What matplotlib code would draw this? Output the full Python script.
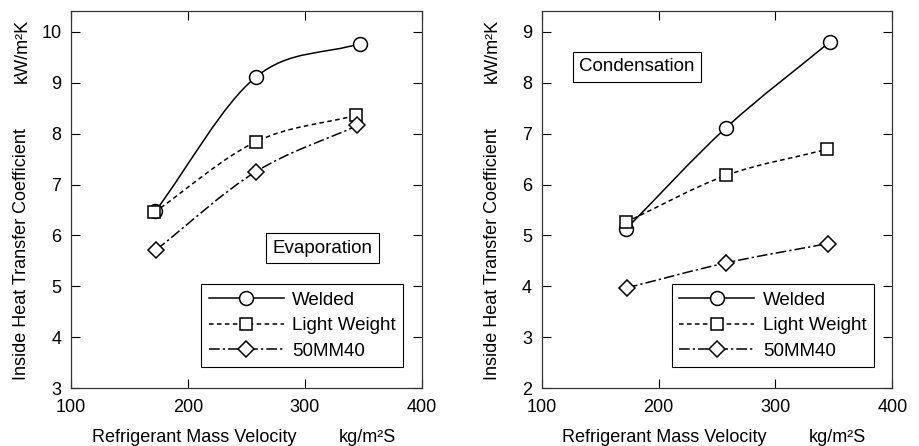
import numpy as np
import matplotlib
matplotlib.use("Agg")
from matplotlib import pyplot as plt
from matplotlib.path import Path
from matplotlib.patches import PathPatch
from matplotlib.lines import Line2D

plt.rcParams['font.family'] = ['Liberation Sans', 'DejaVu Sans']

# Evaporation panel
evap_welded_x = [172, 258, 347]
evap_welded_y = [6.47, 9.11, 9.77]
evap_light_x = [171, 258, 344]
evap_light_y = [6.45, 7.84, 8.36]
evap_mm_x = [173, 258, 345]
evap_mm_y = [5.72, 7.25, 8.16]

# Condensation panel
cond_welded_x = [172, 258, 347]
cond_welded_y = [5.12, 7.12, 8.81]
cond_light_x = [172, 258, 344]
cond_light_y = [5.26, 6.18, 6.69]
cond_mm_x = [173, 258, 345]
cond_mm_y = [3.97, 4.46, 4.84]

series_names = ['Welded', 'Light Weight', '50MM40']
x_ticks = [100, 200, 300, 400]


def smooth_path(x, y):
    # Catmull-Rom through the points, drawn as cubic Bezier segments
    p = np.column_stack([x, y]).astype(float)
    n = len(p)
    tang = np.zeros_like(p)
    for i in range(n):
        if i == 0:
            tang[i] = p[1] - p[0]
        elif i == n - 1:
            tang[i] = p[-1] - p[-2]
        else:
            tang[i] = (p[i + 1] - p[i - 1]) / 2
    verts = [p[0]]
    codes = [Path.MOVETO]
    for i in range(n - 1):
        verts += [p[i] + tang[i] / 3, p[i + 1] - tang[i + 1] / 3, p[i + 1]]
        codes += [Path.CURVE4] * 3
    return Path(verts, codes)


styles = [
    dict(ls='-', marker='o', ms=10),
    dict(ls=(0, (3, 2.2)), marker='s', ms=9),
    dict(ls=(0, (7, 2, 1.5, 2)), marker='D', ms=8.5),
]


def draw_panel(ax, data, ylim, box_text, box_pos):
    handles = []
    for (x, y), st, name in zip(data, styles, series_names):
        patch = PathPatch(smooth_path(x, y), facecolor='none', edgecolor='black',
                          lw=1.1, linestyle=st['ls'], zorder=2)
        ax.add_patch(patch)
        ax.plot(x, y, ls='none', marker=st['marker'], ms=st['ms'], mfc='white',
                mec='black', mew=1.1, zorder=3)
        handles.append(Line2D([], [], color='black', lw=1.1, ls=st['ls'],
                              marker=st['marker'], ms=st['ms'], mfc='white',
                              mec='black', mew=1.1))
    ax.set_xlim(100, 400)
    ax.set_ylim(*ylim)
    ax.set_xticks(x_ticks)
    ax.set_yticks(range(int(ylim[0]), int(ylim[1]) + 1))
    ax.tick_params(direction='in', length=6.5, width=0.8, top=True, right=True,
                   labelsize=13, pad=7, colors='black')
    ax.tick_params(axis='x', pad=8)
    for s in ax.spines.values():
        s.set_linewidth(0.9)
        s.set_color('#333333')
    leg = ax.legend(handles, series_names, loc='lower right',
                    bbox_to_anchor=(0.948, 0.055), borderaxespad=0,
                    fancybox=False, framealpha=1, edgecolor='black',
                    fontsize=13.5, handlelength=4.0, handletextpad=0.45,
                    borderpad=0.4, labelspacing=0.45)
    leg.get_frame().set_linewidth(0.8)
    ax.text(box_pos[0], box_pos[1], box_text, transform=ax.transAxes,
            ha='center', va='center', fontsize=13.5,
            bbox=dict(boxstyle='square,pad=0.35', fc='white', ec='black', lw=0.8))
    ax.text(-0.14, 0.354, 'Inside Heat Transfer Coefficient', transform=ax.transAxes,
            rotation=90, ha='center', va='center', fontsize=13)
    ax.text(-0.14, 0.894, 'kW/m²K', transform=ax.transAxes,
            rotation=90, ha='center', va='center', fontsize=13)
    ax.text(0.351, -0.13, 'Refrigerant Mass Velocity', transform=ax.transAxes,
            ha='center', va='center', fontsize=13)
    ax.text(0.844, -0.13, 'kg/m²S', transform=ax.transAxes,
            ha='center', va='center', fontsize=13)


fig = plt.figure(figsize=(9.19, 4.46), dpi=100)
ax1 = fig.add_axes([0.0773, 0.130, 0.3816, 0.8453])
ax2 = fig.add_axes([0.5894, 0.130, 0.3815, 0.8453])

draw_panel(ax1, [(evap_welded_x, evap_welded_y), (evap_light_x, evap_light_y),
                 (evap_mm_x, evap_mm_y)], (3, 10.41), 'Evaporation', (0.717, 0.371))
draw_panel(ax2, [(cond_welded_x, cond_welded_y), (cond_light_x, cond_light_y),
                 (cond_mm_x, cond_mm_y)], (2, 9.41), 'Condensation', (0.272, 0.852))

fig.savefig('out.png', dpi=100)
